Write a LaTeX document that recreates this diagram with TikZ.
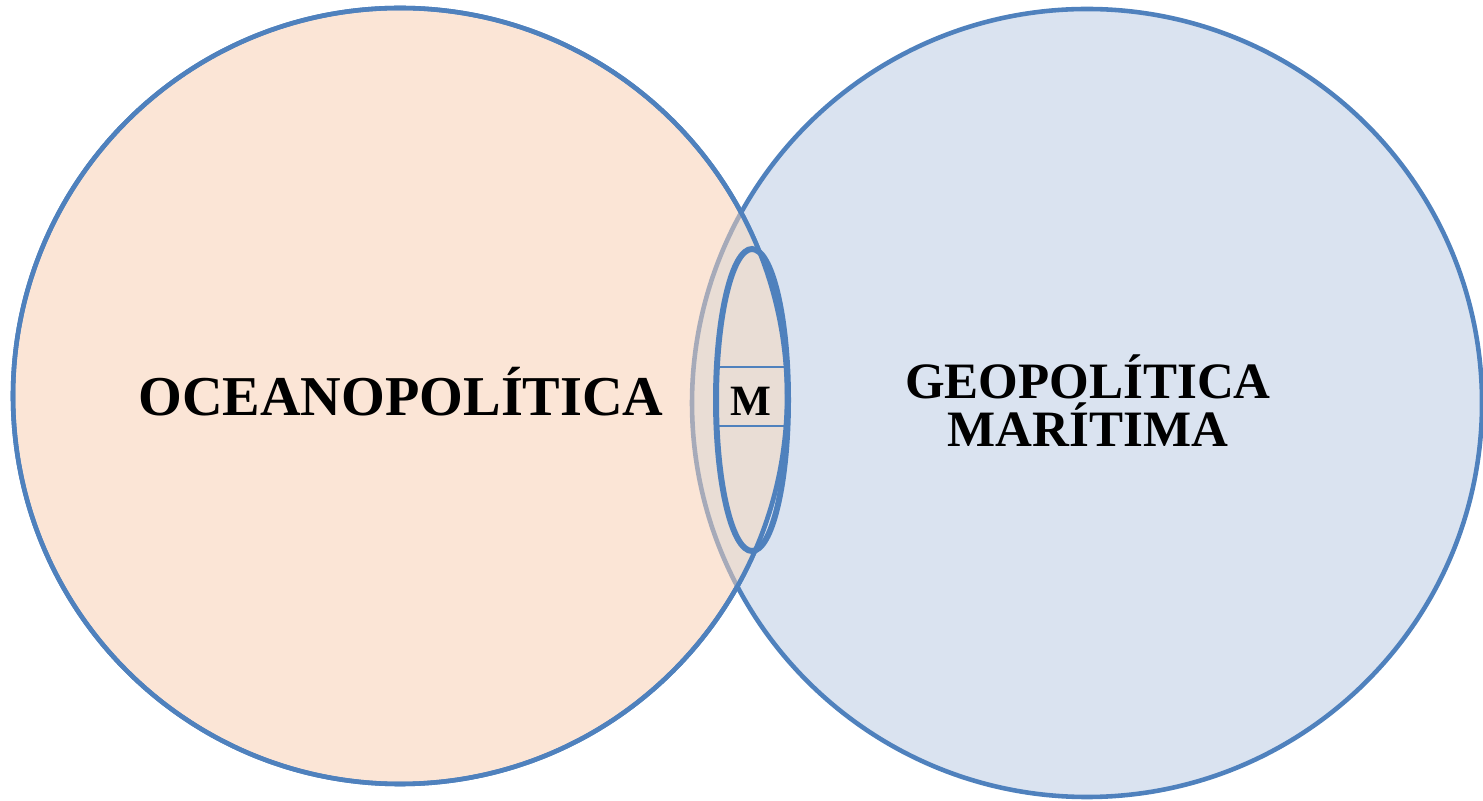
\documentclass[tikz,border=0pt]{standalone}
\usepackage{fontspec}
\setmainfont{Liberation Serif}
\usepackage{xcolor}
\definecolor{vennBlue}{RGB}{79, 129, 189}
\definecolor{vennPeach}{RGB}{251, 229, 214}
\definecolor{vennSky}{RGB}{218, 227, 240}
\definecolor{vennMix}{RGB}{233, 221, 213}
\definecolor{vennGray}{RGB}{166, 170, 185}
\begin{document}
\begin{tikzpicture}[x=0.01cm, y=-0.01cm]
                \useasboundingbox (0,0) rectangle (1483,801);
                % right circle, then left circle on top
                \draw[vennBlue, fill=vennSky, line width=1.3pt] (1087,403) ellipse [x radius=395, y radius=394];
                \draw[vennBlue, fill=vennPeach, line width=1.3pt] (400,396) ellipse [x radius=387, y radius=388];
                % overlap
                \begin{scope}
                    \clip (400,396) ellipse [x radius=387, y radius=388];
                    \draw[vennGray, fill=vennMix, line width=1.3pt] (1087,403) ellipse [x radius=395, y radius=394];
                \end{scope}
                \draw[vennBlue, line width=1.3pt] (400,396) ellipse [x radius=387, y radius=388];
                % inner ellipse with the M band
                \draw[vennBlue, line width=1.7pt] (752,400) ellipse [x radius=36, y radius=151];
                \draw[vennBlue, line width=0.4pt] (716,367) -- (787,367);
                \draw[vennBlue, line width=0.4pt] (716,426) -- (787,426);
                \node[font=\fontsize{16}{19}\selectfont\bfseries] (ocean) at (401,392) {OCEANOPOLÍTICA};
                \node[font=\fontsize{14.5}{13.7}\selectfont\bfseries, align=center] (geo) at (1088,401) {GEOPOLÍTICA\\MARÍTIMA};
                \node[font=\fontsize{12.3}{14}\selectfont\bfseries] (m) at (751,401) {M};
            \end{tikzpicture}
\end{document}
